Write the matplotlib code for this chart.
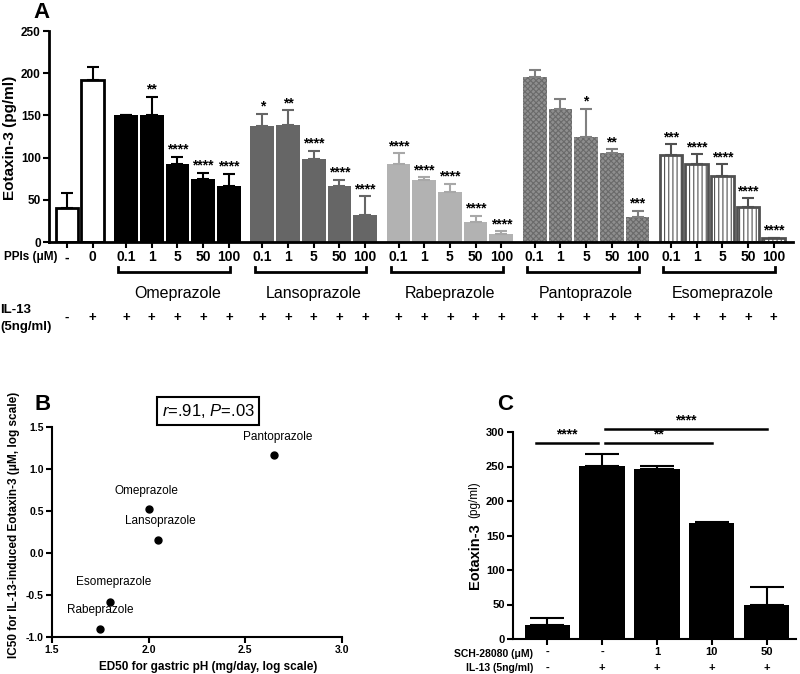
import matplotlib
matplotlib.use('Agg')
import matplotlib.pyplot as plt
import matplotlib.transforms as mtransforms
import numpy as np

plt.rcParams['font.family'] = ['Liberation Sans', 'DejaVu Sans']
plt.rcParams['mathtext.fontset'] = 'custom'
plt.rcParams['mathtext.rm'] = 'Liberation Sans'
plt.rcParams['mathtext.it'] = 'Liberation Sans:italic'
plt.rcParams['hatch.linewidth'] = 0.8

# ---- panel A data ----
ctrl_ppi = ['-', '0']
ctrl_il13 = ['-', '+']
ctrl_vals = [40, 192]
ctrl_err = [18, 15]

doses = ['0.1', '1', '5', '50', '100']
drugs = ['Omeprazole', 'Lansoprazole', 'Rabeprazole', 'Pantoprazole', 'Esomeprazole']

omep_vals = [150, 151, 93, 75, 66]
omep_err = [1, 21, 8, 7, 15]
omep_sig = ['', '**', '****', '****', '****']

lanso_vals = [138, 139, 98, 66, 32]
lanso_err = [14, 17, 10, 8, 22]
lanso_sig = ['*', '**', '****', '****', '****']

rabe_vals = [92, 73, 59, 24, 10]
rabe_err = [13, 4, 10, 7, 3]
rabe_sig = ['****', '****', '****', '****', '****']

panto_vals = [196, 157, 125, 106, 30]
panto_err = [8, 12, 33, 4, 7]
panto_sig = ['', '', '*', '**', '***']

eso_vals = [103, 92, 78, 41, 5]
eso_err = [13, 12, 14, 11, 0]
eso_sig = ['***', '****', '****', '****', '****']

# ---- panel B data ----
b_drugs = ['Pantoprazole', 'Omeprazole', 'Lansoprazole', 'Esomeprazole', 'Rabeprazole']
b_ed50 = [2.65, 2.00, 2.05, 1.80, 1.75]
b_ic50 = [1.17, 0.52, 0.16, -0.58, -0.91]

# ---- panel C data ----
c_sch = ['-', '-', '1', '10', '50']
c_il13 = ['-', '+', '+', '+', '+']
c_vals = [20, 251, 247, 168, 50]
c_err = [11, 17, 4, 1, 25]


def fx(px):
    return px / 800


def fy(py):
    return 1 - py / 674


fig = plt.figure(figsize=(8, 6.74), dpi=100)

# ================= Panel A =================
ax = fig.add_axes([fx(49), fy(242), 744 / 800, 211 / 674])
ax.set_xlim(-0.7, 28.25)
ax.set_ylim(0, 250)

styles = [
    dict(color='black', edgecolor='black', lw=0, hatch=None, ecol='black'),
    dict(color='#666666', edgecolor='#666666', lw=0, hatch=None, ecol='#666666'),
    dict(color='#b2b2b2', edgecolor='#b2b2b2', lw=0, hatch=None, ecol='#a8a8a8'),
    dict(color='#8e8e8e', edgecolor='#6a6a6a', lw=0, hatch='xxxxxx', ecol='#808080'),
    dict(color='white', edgecolor='#505050', lw=2, hatch='||||', ecol='#505050'),
]
group_vals = [omep_vals, lanso_vals, rabe_vals, panto_vals, eso_vals]
group_err = [omep_err, lanso_err, rabe_err, panto_err, eso_err]
group_sig = [omep_sig, lanso_sig, rabe_sig, panto_sig, eso_sig]

w = 0.92
ctrl_pos = np.array([0, 1])
ax.bar(ctrl_pos, ctrl_vals, width=0.88, color='white', edgecolor='black', linewidth=2)
ax.errorbar(ctrl_pos, ctrl_vals, yerr=[np.zeros(2), ctrl_err], fmt='none',
            ecolor='black', elinewidth=1.5, capsize=4.5, capthick=1.5)

all_pos = list(ctrl_pos)
all_labels = list(ctrl_ppi)
trans = mtransforms.blended_transform_factory(ax.transData, ax.transAxes)
for g in range(5):
    pos = 2.3 + 5.3 * g + np.arange(5)
    st = styles[g]
    bw = 0.88 if g == 4 else w
    ax.bar(pos, group_vals[g], width=bw, color=st['color'], edgecolor=st['edgecolor'],
           linewidth=st['lw'], hatch=st['hatch'])
    ax.errorbar(pos, group_vals[g], yerr=[np.zeros(5), group_err[g]], fmt='none',
                ecolor=st['ecol'], elinewidth=1.5, capsize=4.5, capthick=1.5)
    for p, v, e, s in zip(pos, group_vals[g], group_err[g], group_sig[g]):
        if s:
            ax.annotate(s, (p, v + e), xytext=(0, 0), textcoords='offset points',
                        ha='center', va='bottom', fontsize=10, fontweight='bold')
    # bracket
    y0 = -0.142
    ax.plot([pos[0] - 0.3, pos[0] - 0.3, pos[-1] + 0.05, pos[-1] + 0.05],
            [y0 + 0.025, y0, y0, y0 + 0.025], color='black', lw=2,
            transform=trans, clip_on=False, solid_joinstyle='miter')
    ax.text(pos.mean(), -0.242, drugs[g], transform=trans, ha='center', va='center',
            fontsize=11.5)
    for p in pos:
        ax.text(p, -0.36, '+', transform=trans, ha='center', va='center',
                fontsize=9.5, fontweight='bold')
    all_pos += list(pos)
    all_labels += doses

for p, s in zip(ctrl_pos, ctrl_il13):
    ax.text(p, -0.36, s, transform=trans, ha='center', va='center',
            fontsize=9.5, fontweight='bold')

ax.set_xticks(all_pos)
ax.set_xticklabels(all_labels, fontsize=10, fontweight='bold')
ax.set_yticks([0, 50, 100, 150, 200, 250])
ax.set_yticklabels(['0', '50', '100', '150', '200', '250'], fontsize=8.5, fontweight='bold')
ax.tick_params(axis='both', direction='out', length=4, width=1.5, pad=2)
for sp in ['top', 'right']:
    ax.spines[sp].set_visible(False)
for sp in ['left', 'bottom']:
    ax.spines[sp].set_linewidth(2)

fig.text(fx(10), fy(138), 'Eotaxin-3 (pg/ml)', rotation=90, ha='center', va='center',
         fontsize=11, fontweight='bold')
fig.text(fx(58), fy(257), 'PPIs (\u03bcM)', ha='right', va='center', fontsize=8.5,
         fontweight='bold')
fig.text(fx(0), fy(310), 'IL-13', ha='left', va='center', fontsize=9.5, fontweight='bold')
fig.text(fx(0), fy(327), '(5ng/ml)', ha='left', va='center', fontsize=9.5, fontweight='bold')
fig.text(fx(42), fy(12), 'A', ha='center', va='center', fontsize=16, fontweight='bold')

# ================= Panel B =================
axb = fig.add_axes([fx(52), fy(637), 290 / 800, 210 / 674])
axb.set_xlim(1.5, 3.0)
axb.set_ylim(-1.0, 1.5)
axb.plot(b_ed50, b_ic50, 'o', color='black', ms=5)
label_off = [(3, 12), (-2, 12), (2, 13), (4, 14), (0, 13)]
for name, x, y, off in zip(b_drugs, b_ed50, b_ic50, label_off):
    axb.annotate(name, (x, y), xytext=off, textcoords='offset pixels',
                 ha='center', va='bottom', fontsize=8.5)
axb.set_xticks([1.5, 2.0, 2.5, 3.0])
axb.set_xticklabels(['1.5', '2.0', '2.5', '3.0'], fontsize=7.5, fontweight='bold')
axb.set_yticks([-1.0, -0.5, 0.0, 0.5, 1.0, 1.5])
axb.set_yticklabels(['-1.0', '-0.5', '0.0', '0.5', '1.0', '1.5'], fontsize=7.5,
                    fontweight='bold')
axb.tick_params(axis='both', direction='out', length=4, width=1.5, pad=2)
for sp in ['top', 'right']:
    axb.spines[sp].set_visible(False)
for sp in ['left', 'bottom']:
    axb.spines[sp].set_linewidth(1.5)
fig.text(fx(208), fy(667), 'ED50 for gastric pH (mg/day, log scale)', ha='center',
         va='center', fontsize=8.5, fontweight='bold')
fig.text(fx(14), fy(525), 'IC50 for IL-13-induced Eotaxin-3 (\u03bcM, log scale)',
         rotation=90, ha='center', va='center', fontsize=8.5, fontweight='bold')
fig.text(fx(208), fy(411), r'$\mathit{r}$=.91, $\mathit{P}$=.03', ha='center', va='center',
         fontsize=12,
         bbox=dict(boxstyle='square,pad=0.3', facecolor='white', edgecolor='black', lw=1.5))
fig.text(fx(43), fy(404), 'B', ha='center', va='center', fontsize=16, fontweight='bold')

# ================= Panel C =================
axc = fig.add_axes([fx(513), fy(639), (796 - 513) / 800, 207 / 674])
axc.set_xlim(-0.62, 4.53)
axc.set_ylim(0, 300)
cpos = np.arange(5)
axc.bar(cpos, c_vals, width=0.82, color='black')
axc.errorbar(cpos, c_vals, yerr=[np.zeros(5), c_err], fmt='none', ecolor='black',
             elinewidth=1.5, capsize=12, capthick=1.5)
axc.set_xticks(cpos)
axc.set_xticklabels(c_sch, fontsize=8, fontweight='bold')
axc.set_yticks([0, 50, 100, 150, 200, 250, 300])
axc.set_yticklabels(['0', '50', '100', '150', '200', '250', '300'], fontsize=8,
                    fontweight='bold')
axc.tick_params(axis='both', direction='out', length=4, width=1.5, pad=2)
for sp in ['top', 'right']:
    axc.spines[sp].set_visible(False)
for sp in ['left', 'bottom']:
    axc.spines[sp].set_linewidth(1.5)
transc = mtransforms.blended_transform_factory(axc.transData, axc.transAxes)
for p, s in zip(cpos, c_il13):
    axc.text(p, -0.14, s, transform=transc, ha='center', va='center', fontsize=8,
             fontweight='bold')
# significance lines
sig_lines = [(-0.2, 0.93, 284, '****'), (1.05, 3.0, 284, '**'), (1.05, 4.0, 304, '****')]
for x0, x1, yv, s in sig_lines:
    axc.plot([x0, x1], [yv, yv], color='black', lw=1.8, clip_on=False)
    axc.text((x0 + x1) / 2, yv + 2, s, ha='center', va='bottom', fontsize=10,
             fontweight='bold', clip_on=False)
fig.text(fx(533), fy(654), 'SCH-28080 (\u03bcM)', ha='right', va='center', fontsize=7.5,
         fontweight='bold')
fig.text(fx(533), fy(668), 'IL-13 (5ng/ml)', ha='right', va='center', fontsize=7.5,
         fontweight='bold')
fig.text(fx(475), fy(556), 'Eotaxin-3', rotation=90, ha='center', va='center', fontsize=10.5,
         fontweight='bold')
fig.text(fx(474), fy(500), '(pg/ml)', rotation=90, ha='center', va='center', fontsize=8.5)
fig.text(fx(505), fy(404), 'C', ha='center', va='center', fontsize=16, fontweight='bold')

fig.savefig('out.png', dpi=100)
